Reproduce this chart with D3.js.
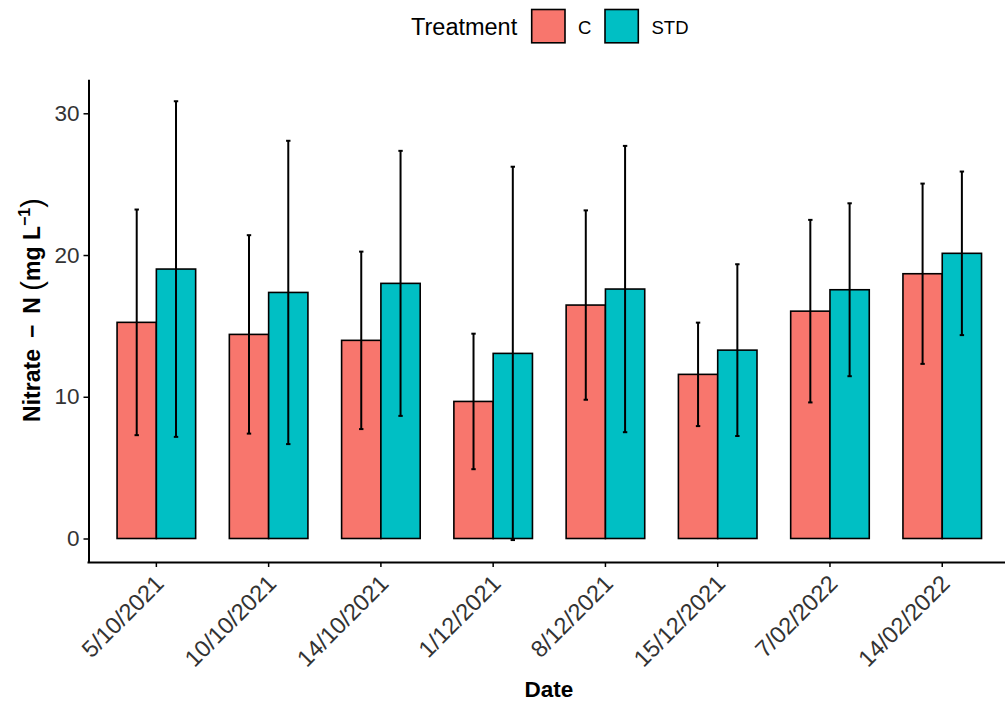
<!DOCTYPE html>
<html>
<head>
<meta charset="utf-8">
<script src="https://cdn.jsdelivr.net/npm/d3@7"></script>
<style>
  html, body { margin: 0; padding: 0; background: #fff; }
  svg { display: block; font-family: "Liberation Sans", Arial, sans-serif; }
</style>
</head>
<body>
<svg id="chart" width="1005" height="702"></svg>
<script>
// Sampling dates (x categories)
const dates = ["5/10/2021", "10/10/2021", "14/10/2021", "1/12/2021",
               "8/12/2021", "15/12/2021", "7/02/2022", "14/02/2022"];

// Treatments
const treatments = ["C", "STD"];
const treatmentColors = ["#F8766D", "#00BFC4"];

// Mean nitrate-N (mg/L) and standard deviation per date
const meanC   = [15.25, 14.40, 13.98, 9.67, 16.47, 11.58, 16.04, 18.68];
const sdC     = [7.96, 7.00, 6.26, 4.78, 6.68, 3.65, 6.44, 6.36];
const meanSTD = [19.01, 17.36, 18.00, 13.06, 17.60, 13.29, 17.55, 20.12];
const sdSTD   = [11.84, 10.70, 9.35, 13.17, 10.10, 6.06, 6.10, 5.77];

const yTicks = [0, 10, 20, 30];

const rows = [];
dates.forEach((d, i) => {
  rows.push({ date: d, trt: "C",   mean: meanC[i],   sd: sdC[i] });
  rows.push({ date: d, trt: "STD", mean: meanSTD[i], sd: sdSTD[i] });
});

const svg = d3.select("#chart");

// Panel geometry
const left = 88.5, bottom = 562;

// y range with 5% expansion around the data extent (bars and error bars)
const lo = d3.min(rows, r => Math.min(0, r.mean - r.sd));
const hi = d3.max(rows, r => r.mean + r.sd);
const pad = 0.05 * (hi - lo);
const y = d3.scaleLinear().domain([lo - pad, hi + pad]).range([bottom, 79.3]);

const x = d3.scaleBand().domain(dates).range([89, 1009.6])
  .paddingInner(0).paddingOuter(0.1);
const dodge = d3.scaleBand().domain(treatments).range([-0.35, 0.35]);
const color = d3.scaleOrdinal().domain(treatments).range(treatmentColors);

const step = x.step();
const cx = d => x(d) + x.bandwidth() / 2;

// Bars
const g = svg.append("g");
g.selectAll("rect.bar").data(rows).join("rect")
  .attr("class", "bar")
  .attr("x", r => cx(r.date) + dodge(r.trt) * step)
  .attr("width", dodge.bandwidth() * step)
  .attr("y", r => y(r.mean))
  .attr("height", r => y(0) - y(r.mean))
  .attr("fill", r => color(r.trt))
  .attr("stroke", "#000")
  .attr("stroke-width", 1.6);

// Error bars (mean ± sd)
const ex = r => cx(r.date) + (dodge(r.trt) + dodge.bandwidth() / 2) * step;
const cap = 2.2;
const eb = g.selectAll("g.err").data(rows).join("g").attr("class", "err")
  .attr("stroke", "#000").attr("stroke-width", 2);
eb.append("line")
  .attr("x1", ex).attr("x2", ex)
  .attr("y1", r => y(r.mean - r.sd)).attr("y2", r => y(r.mean + r.sd));
eb.append("line")
  .attr("x1", r => ex(r) - cap).attr("x2", r => ex(r) + cap)
  .attr("y1", r => y(r.mean + r.sd)).attr("y2", r => y(r.mean + r.sd));
eb.append("line")
  .attr("x1", r => ex(r) - cap).attr("x2", r => ex(r) + cap)
  .attr("y1", r => y(r.mean - r.sd)).attr("y2", r => y(r.mean - r.sd));

// Axes
const yAxis = svg.append("g")
  .attr("transform", `translate(${left},0)`)
  .call(d3.axisLeft(y).tickValues(yTicks).tickSize(5).tickSizeOuter(0).tickPadding(4));
yAxis.select(".domain").attr("stroke-width", 2);
yAxis.selectAll(".tick line").attr("stroke-width", 1.5);
yAxis.selectAll(".tick text")
  .attr("font-size", 22.5).attr("fill", "#333")
  .attr("font-family", "Liberation Sans, Arial, sans-serif");

const xAxis = svg.append("g")
  .attr("transform", `translate(0,${bottom})`)
  .call(d3.axisBottom(x).tickSize(5).tickSizeOuter(0));
xAxis.select(".domain").attr("stroke-width", 2)
  .attr("d", `M${left - 1},0.5H1010`);
xAxis.selectAll(".tick line").attr("stroke-width", 1.5);
xAxis.selectAll(".tick text")
  .attr("font-size", 23.5).attr("fill", "#333")
  .attr("font-family", "Liberation Sans, Arial, sans-serif")
  .attr("text-anchor", "end")
  .attr("dy", 0)
  .attr("y", 0)
  .attr("transform", "translate(9,23) rotate(-45)");

// Axis titles
svg.append("text")
  .attr("x", 549).attr("y", 697)
  .attr("text-anchor", "middle")
  .attr("font-size", 22.5).attr("font-weight", "bold").attr("fill", "#000")
  .text("Date");

const yt = svg.append("text")
  .attr("transform", "translate(40,310) rotate(-90)")
  .attr("text-anchor", "middle")
  .attr("font-size", 23).attr("font-weight", "bold").attr("fill", "#000");
yt.append("tspan").text("Nitrate \u2009\u2212\u2009 N ");
yt.append("tspan").attr("font-size", 29).attr("font-weight", "normal").attr("dy", 2).text("(");
yt.append("tspan").attr("dy", -2).text("mg L");
yt.append("tspan").attr("font-size", 16).attr("dy", -10).text("\u22121");
yt.append("tspan").attr("font-size", 29).attr("font-weight", "normal").attr("dy", 12).text(")");

// Legend
const legend = svg.append("g");
legend.append("text")
  .attr("x", 411).attr("y", 34.5)
  .attr("font-size", 23.5).attr("fill", "#000")
  .text("Treatment");
const keyX = [531.7, 605];
const labX = [578, 651.5];
treatments.forEach((t, i) => {
  legend.append("rect")
    .attr("x", keyX[i]).attr("y", 9.5)
    .attr("width", 33.3).attr("height", 33.3)
    .attr("fill", color(t)).attr("stroke", "#000").attr("stroke-width", 1.6);
  legend.append("text")
    .attr("x", labX[i]).attr("y", 33.5)
    .attr("font-size", 18.5).attr("fill", "#000")
    .text(t);
});
</script>
</body>
</html>
